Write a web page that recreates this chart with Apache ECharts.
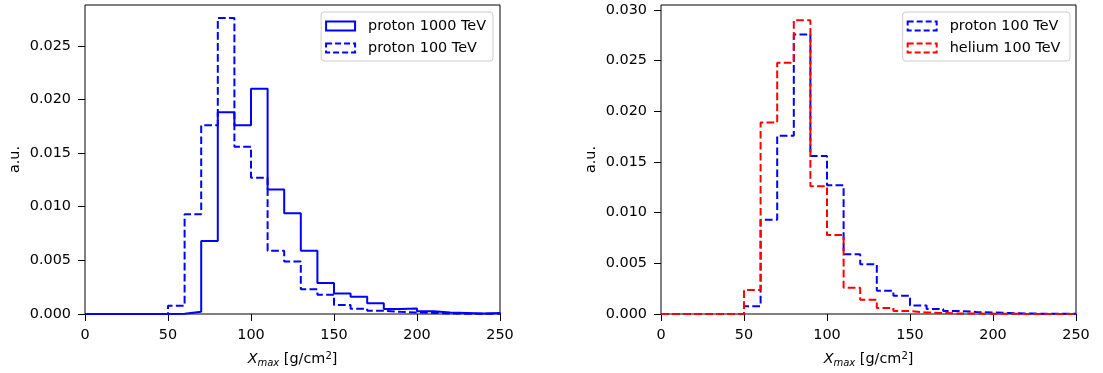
<!DOCTYPE html>
<html>
<head>
<meta charset="utf-8">
<script src="https://cdn.jsdelivr.net/npm/echarts@6/dist/echarts.min.js"></script>
<style>
  html, body { margin: 0; padding: 0; background: #fff; }
  #chart { width: 1103px; height: 373px; }
</style>
</head>
<body>
<div id="chart"></div>
<script>
// bin edges of the Xmax histograms, g/cm2
const binEdges = [0, 10, 20, 30, 40, 50, 60, 70, 80, 90, 100, 110, 120, 130, 140, 150, 160, 170, 180, 190, 200, 210, 220, 230, 240, 250]

// normalised counts per bin (a.u.)
const proton1000 = [0, 0, 0, 0, 0, 0.00003, 0.0002, 0.0068, 0.0188, 0.0176, 0.0210, 0.0116, 0.0094, 0.0059, 0.0029, 0.0019, 0.0016, 0.0010, 0.00046, 0.00052, 0.00026, 0.00015, 0.0001, 0.00005, 0.0001]
const proton100 = [0, 0, 0, 0, 0.00001, 0.00077, 0.0093, 0.0176, 0.0276, 0.0156, 0.0127, 0.0059, 0.0049, 0.0023, 0.0018, 0.00085, 0.0005, 0.0003, 0.0002, 0.00015, 0.0001, 0.00005, 0.00003, 0.00002, 0.00002]
const helium100 = [0, 0, 0, 0, 0, 0.00236, 0.0189, 0.0248, 0.0290, 0.0126, 0.0078, 0.0026, 0.0014, 0.0006, 0.0003, 0.00015, 0.0001, 0.00005, 0.00004, 0.00003, 0.00002, 0.00001, 0.00001, 0.00001, 0.00001]

const xTicks = [0, 50, 100, 150, 200, 250]
const yTicksLeft = [0, 0.005, 0.01, 0.015, 0.02, 0.025]
const yTicksRight = [0, 0.005, 0.01, 0.015, 0.02, 0.025, 0.03]

const font = 'DejaVu Sans'
const fs = 14.4
const dash = [7.7, 3.3]

// matplotlib histtype='step' outline
function stepData(vals) {
  const pts = binEdges.map((x, i) => [x, vals[Math.min(i, vals.length - 1)]])
  pts.unshift([0, 0])
  pts.push([binEdges[binEdges.length - 1], 0])
  return pts
}

function histSeries(name, vals, color, idx, dashed) {
  return {
    name: name,
    type: 'line',
    step: 'end',
    xAxisIndex: idx,
    yAxisIndex: idx,
    symbol: 'none',
    animation: false,
    lineStyle: { color: color, width: 2, type: dashed ? dash : 'solid' },
    itemStyle: { color: color },
    data: stepData(vals)
  }
}

function xAxis(idx) {
  return {
    type: 'value',
    gridIndex: idx,
    min: 0,
    max: 250,
    interval: 50,
    name: '{it|X}{sub|max} [g/cm{sup|2}]',
    nameLocation: 'middle',
    nameGap: 37,
    nameTextStyle: {
      fontFamily: font,
      fontSize: fs,
      color: '#000',
      rich: {
        it: { fontFamily: font, fontSize: fs, fontStyle: 'italic', color: '#000' },
        sub: { fontFamily: font, fontSize: 10, fontStyle: 'italic', color: '#000', padding: [7, 0, 0, 0] },
        sup: { fontFamily: font, fontSize: 10, color: '#000', padding: [0, 0, 7, 0] }
      }
    },
    axisLine: { show: false },
    splitLine: { show: false },
    axisTick: { show: true, length: 7, inside: false, lineStyle: { color: '#000', width: 1 }, customValues: xTicks },
    axisLabel: { fontFamily: font, fontSize: fs, color: '#000', margin: 14, customValues: xTicks }
  }
}

function yAxis(idx, max, ticks) {
  return {
    type: 'value',
    gridIndex: idx,
    min: 0,
    max: max,
    name: 'a.u.',
    nameLocation: 'middle',
    nameGap: 63,
    nameTextStyle: { fontFamily: font, fontSize: fs, color: '#000' },
    axisLine: { show: false },
    splitLine: { show: false },
    axisTick: { show: true, length: 7, inside: false, lineStyle: { color: '#000', width: 1 }, customValues: ticks },
    axisLabel: {
      fontFamily: font, fontSize: fs, color: '#000', margin: 14,
      customValues: ticks,
      formatter: v => v.toFixed(3)
    }
  }
}

function legend(right, items) {
  return {
    orient: 'vertical',
    right: right,
    top: 12,
    padding: [7, 7, 6, 4],
    itemGap: 8,
    itemWidth: 29,
    itemHeight: 9,
    backgroundColor: 'rgba(255,255,255,0.8)',
    borderColor: '#cccccc',
    borderWidth: 1,
    borderRadius: 3,
    textStyle: { fontFamily: font, fontSize: fs, color: '#000', padding: [0, 0, 0, 8] },
    data: items.map(it => ({
      name: it.name,
      icon: 'rect',
      itemStyle: { color: 'rgba(0,0,0,0)', borderColor: it.color, borderWidth: 2, borderType: it.dashed ? [6, 3] : 'solid' }
    }))
  }
}

const chart = echarts.init(document.getElementById('chart'))

chart.setOption({
  backgroundColor: '#fff',
  animation: false,
  grid: [
    { left: 85, right: 603, top: 5, bottom: 58, show: true, borderColor: '#000', borderWidth: 1, backgroundColor: '#fff' },
    { left: 661, right: 27, top: 5, bottom: 58, show: true, borderColor: '#000', borderWidth: 1, backgroundColor: '#fff' }
  ],
  xAxis: [xAxis(0), xAxis(1)],
  yAxis: [yAxis(0, 0.0288, yTicksLeft), yAxis(1, 0.0305, yTicksRight)],
  legend: [
    legend(610, [
      { name: 'proton 1000 TeV', color: '#0000ff', dashed: false },
      { name: 'proton 100 TeV', color: '#0000ff', dashed: true }
    ]),
    legend(33, [
      { name: 'proton 100 TeV ', color: '#0000ff', dashed: true },
      { name: 'helium 100 TeV', color: '#ff0000', dashed: true }
    ])
  ],
  series: [
    histSeries('proton 1000 TeV', proton1000, '#0000ff', 0, false),
    histSeries('proton 100 TeV', proton100, '#0000ff', 0, true),
    histSeries('proton 100 TeV ', proton100, '#0000ff', 1, true),
    histSeries('helium 100 TeV', helium100, '#ff0000', 1, true)
  ]
})
</script>
</body>
</html>
